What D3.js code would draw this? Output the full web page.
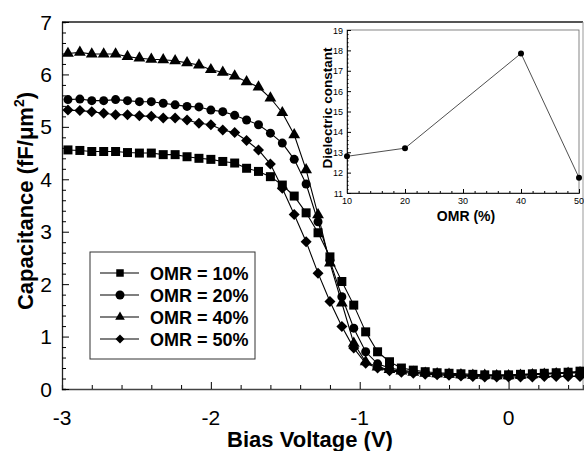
<!DOCTYPE html>
<html>
<head>
<meta charset="utf-8">
<script src="https://cdn.jsdelivr.net/npm/d3@7"></script>
<style>
	body { margin: 0; background: #fff; }
	svg { display: block; font-family: Arial, "Liberation Sans", sans-serif; }
</style>
</head>
<body>
<svg id="chart" width="584" height="451"></svg>
<script>
// bias voltage sweep (V)
const voltages = [-2.96, -2.88, -2.80, -2.72, -2.64, -2.56, -2.48, -2.40, -2.32, -2.24,
	-2.16, -2.08, -2.00, -1.92, -1.84, -1.76, -1.68, -1.60, -1.52, -1.44,
	-1.36, -1.28, -1.20, -1.12, -1.04, -0.96, -0.88, -0.80, -0.72, -0.64,
	-0.56, -0.48, -0.40, -0.32, -0.24, -0.16, -0.08, 0.00, 0.08, 0.16,
	0.24, 0.32, 0.40, 0.48];

// capacitance (fF/um^2) per OMR
const omr10 = [4.56, 4.55, 4.53, 4.53, 4.53, 4.51, 4.50, 4.50, 4.47, 4.47,
	4.43, 4.40, 4.38, 4.34, 4.31, 4.21, 4.15, 4.05, 3.89, 3.68,
	3.36, 2.98, 2.52, 2.05, 1.60, 1.09, 0.71, 0.52, 0.40, 0.36,
	0.33, 0.31, 0.30, 0.29, 0.28, 0.27, 0.27, 0.27, 0.28, 0.29,
	0.30, 0.31, 0.32, 0.34];
const omr20 = [5.52, 5.53, 5.50, 5.50, 5.52, 5.50, 5.48, 5.48, 5.45, 5.42,
	5.39, 5.38, 5.32, 5.29, 5.22, 5.13, 5.04, 4.88, 4.69, 4.38,
	3.91, 3.19, 2.45, 1.76, 1.16, 0.71, 0.48, 0.40, 0.36, 0.33,
	0.31, 0.29, 0.28, 0.27, 0.26, 0.26, 0.26, 0.26, 0.27, 0.28,
	0.29, 0.30, 0.31, 0.32];
const omr40 = [6.40, 6.42, 6.39, 6.39, 6.39, 6.34, 6.31, 6.29, 6.28, 6.26,
	6.22, 6.18, 6.09, 6.04, 5.97, 5.86, 5.76, 5.55, 5.27, 4.85,
	4.18, 3.32, 2.40, 1.64, 0.87, 0.52, 0.42, 0.37, 0.34, 0.32,
	0.30, 0.29, 0.28, 0.27, 0.26, 0.26, 0.25, 0.25, 0.26, 0.27,
	0.28, 0.29, 0.30, 0.31];
const omr50 = [5.32, 5.31, 5.29, 5.26, 5.23, 5.23, 5.21, 5.20, 5.17, 5.17,
	5.13, 5.07, 5.04, 4.94, 4.89, 4.74, 4.56, 4.29, 3.83, 3.33,
	2.81, 2.21, 1.67, 1.19, 0.78, 0.49, 0.40, 0.35, 0.32, 0.30,
	0.28, 0.27, 0.26, 0.25, 0.24, 0.23, 0.23, 0.23, 0.23, 0.23,
	0.24, 0.24, 0.24, 0.24];

const seriesLabels = ["OMR = 10%", "OMR = 20%", "OMR = 40%", "OMR = 50%"];
const seriesMarkers = ["square", "circle", "triangle", "diamond"];

// inset: dielectric constant vs OMR
const insetOmr = [10, 20, 40, 50];
const insetDielectric = [12.8, 13.2, 17.85, 11.75];

// tick labels
const xTicks = [-3, -2, -1, 0];
const yTicks = [0, 1, 2, 3, 4, 5, 6, 7];
const insetXTicks = [10, 20, 30, 40, 50];
const insetYTicks = [11, 12, 13, 14, 15, 16, 17, 18, 19];

// layout
const plotLeft = 62, plotRight = 583, plotTop = 22, plotBottom = 389;
const insetLeft = 347, insetRight = 579, insetTop = 30, insetBottom = 193;

const svg = d3.select("#chart");

const xScale = d3.scaleLinear().domain([-3, 0.5]).range([plotLeft, plotRight]);
const yScale = d3.scaleLinear().domain([0, 7]).range([plotBottom, plotTop]);

/**
 * Returns a path string for a marker shape of the given pixel size
 */
function markerPath(kind, s) {
	if (kind == "square") return d3.symbol().type(d3.symbolSquare).size(s * s)();
	if (kind == "circle") return d3.symbol().type(d3.symbolCircle).size(Math.PI * s * s / 4)();
	if (kind == "triangle") return d3.symbol().type(d3.symbolTriangle).size(s * s * 0.5)();
	// diamond = rotated square, tip-to-tip s
	const h = s / 2;
	return `M0,${-h}L${h},0L0,${h}L${-h},0Z`;
}

// frame: top and right borders (light), left and bottom axes (dark)
svg.append("line")
	.attr("x1", plotLeft).attr("x2", plotRight)
	.attr("y1", plotTop).attr("y2", plotTop)
	.attr("stroke", "#555").attr("stroke-width", 1.8);
svg.append("line")
	.attr("x1", plotRight).attr("x2", plotRight)
	.attr("y1", plotTop).attr("y2", plotBottom)
	.attr("stroke", "#999").attr("stroke-width", 1);

// main axes, ticks pointing inward
const xAxis = svg.append("g")
	.attr("transform", `translate(0,${plotBottom})`)
	.call(d3.axisTop(xScale).tickValues(d3.range(-3, 0.51, 0.2)).tickSize(4).tickFormat(""));
xAxis.selectAll(".tick line").attr("y2", d => Math.abs(d - Math.round(d)) < 1e-6 ? -7 : -4);
xAxis.select(".domain").attr("stroke", "#444").attr("stroke-width", 1.3);

const yAxis = svg.append("g")
	.attr("transform", `translate(${plotLeft},0)`)
	.call(d3.axisRight(yScale).tickValues(d3.range(0, 7.01, 0.2)).tickSize(4).tickFormat(""));
yAxis.selectAll(".tick line").attr("x2", d => Math.abs(d - Math.round(d)) < 1e-6 ? 7 : 4);
yAxis.select(".domain").attr("stroke", "#222").attr("stroke-width", 1.3);

// tick labels
svg.selectAll(".xlab").data(xTicks).enter()
	.append("text")
	.attr("x", d => xScale(d))
	.attr("y", 425)
	.attr("text-anchor", "middle")
	.style("font-size", "21px")
	.text(d => d);

svg.selectAll(".ylab").data(yTicks).enter()
	.append("text")
	.attr("x", 52)
	.attr("y", d => yScale(d) + 7.5)
	.attr("text-anchor", "end")
	.style("font-size", "21px")
	.text(d => d);

// axis titles
svg.append("text")
	.attr("x", 310).attr("y", 447)
	.attr("text-anchor", "middle")
	.style("font-size", "22px").style("font-weight", "bold")
	.text("Bias Voltage (V)");

const yTitle = svg.append("text")
	.attr("transform", "translate(33,201) rotate(-90)")
	.attr("text-anchor", "middle")
	.style("font-size", "22px").style("font-weight", "bold");
yTitle.append("tspan").text("Capacitance (fF/\u03bcm");
yTitle.append("tspan").attr("dy", -9).style("font-size", "14px").text("2");
yTitle.append("tspan").attr("dy", 9).text(")");

// curves
const allSeries = [omr10, omr20, omr40, omr50];
const line = d3.line()
	.x((d, i) => xScale(voltages[i]))
	.y(d => yScale(d));

allSeries.forEach(function (values, s) {
	svg.append("path")
		.datum(values)
		.attr("fill", "none")
		.attr("stroke", "#000")
		.attr("stroke-width", 1.1)
		.attr("d", line);

	svg.selectAll(".m" + s).data(values).enter()
		.append("path")
		.attr("transform", (d, i) => `translate(${xScale(voltages[i])},${yScale(d)})`)
		.attr("d", markerPath(seriesMarkers[s], seriesMarkers[s] == "square" || seriesMarkers[s] == "circle" ? 9 : 11))
		.attr("fill", "#000");
});

// legend
svg.append("rect")
	.attr("x", 90).attr("y", 252)
	.attr("width", 165).attr("height", 107)
	.attr("fill", "#fff")
	.attr("stroke", "#333").attr("stroke-width", 1);

seriesLabels.forEach(function (label, i) {
	const ly = 273 + i * 22;
	svg.append("line")
		.attr("x1", 100).attr("x2", 139)
		.attr("y1", ly).attr("y2", ly)
		.attr("stroke", "#000").attr("stroke-width", 1.1);
	svg.append("path")
		.attr("transform", `translate(120,${ly})`)
		.attr("d", markerPath(seriesMarkers[i], seriesMarkers[i] == "square" ? 7.5 : 9))
		.attr("fill", "#000");
	svg.append("text")
		.attr("x", 150).attr("y", ly + 6.5)
		.style("font-size", "18px").style("font-weight", "bold")
		.text(label);
});

// inset chart
const ixScale = d3.scaleLinear().domain([10, 50]).range([insetLeft, insetRight]);
const iyScale = d3.scaleLinear().domain([11, 19]).range([insetBottom, insetTop]);

svg.append("rect")
	.attr("x", insetLeft).attr("y", insetTop)
	.attr("width", insetRight - insetLeft).attr("height", insetBottom - insetTop)
	.attr("fill", "#fff")
	.attr("stroke", "#666").attr("stroke-width", 0.8);

const ixAxis = svg.append("g")
	.attr("transform", `translate(0,${insetBottom})`)
	.call(d3.axisTop(ixScale).tickValues(d3.range(10, 50.1, 2)).tickSize(2).tickFormat(""));
ixAxis.selectAll(".tick line").attr("y2", d => d % 10 == 0 ? -4 : -2);
ixAxis.select(".domain").attr("stroke", "#222").attr("stroke-width", 1);

const iyAxis = svg.append("g")
	.attr("transform", `translate(${insetLeft},0)`)
	.call(d3.axisRight(iyScale).tickValues(d3.range(11, 19.01, 0.2)).tickSize(1.5).tickFormat(""));
iyAxis.selectAll(".tick line").attr("x2", d => Math.abs(d - Math.round(d)) < 1e-6 ? 4 : 1.5);
iyAxis.select(".domain").attr("stroke", "#222").attr("stroke-width", 1);

svg.selectAll(".ixlab").data(insetXTicks).enter()
	.append("text")
	.attr("x", d => ixScale(d))
	.attr("y", 204)
	.attr("text-anchor", "middle")
	.style("font-size", "9px")
	.text(d => d);

svg.selectAll(".iylab").data(insetYTicks).enter()
	.append("text")
	.attr("x", 343)
	.attr("y", d => iyScale(d) + 3.5)
	.attr("text-anchor", "end")
	.style("font-size", "9px")
	.text(d => d);

svg.append("text")
	.attr("x", 466).attr("y", 221)
	.attr("text-anchor", "middle")
	.style("font-size", "14px").style("font-weight", "bold")
	.text("OMR (%)");

svg.append("text")
	.attr("transform", "translate(332,108) rotate(-90)")
	.attr("text-anchor", "middle")
	.style("font-size", "13.5px").style("font-weight", "bold")
	.text("Dielectric constant");

svg.append("path")
	.datum(insetDielectric)
	.attr("fill", "none")
	.attr("stroke", "#222")
	.attr("stroke-width", 0.8)
	.attr("d", d3.line().x((d, i) => ixScale(insetOmr[i])).y(d => iyScale(d)));

svg.selectAll(".ipt").data(insetDielectric).enter()
	.append("circle")
	.attr("cx", (d, i) => ixScale(insetOmr[i]))
	.attr("cy", d => iyScale(d))
	.attr("r", 3)
	.attr("fill", "#000");
</script>
</body>
</html>
